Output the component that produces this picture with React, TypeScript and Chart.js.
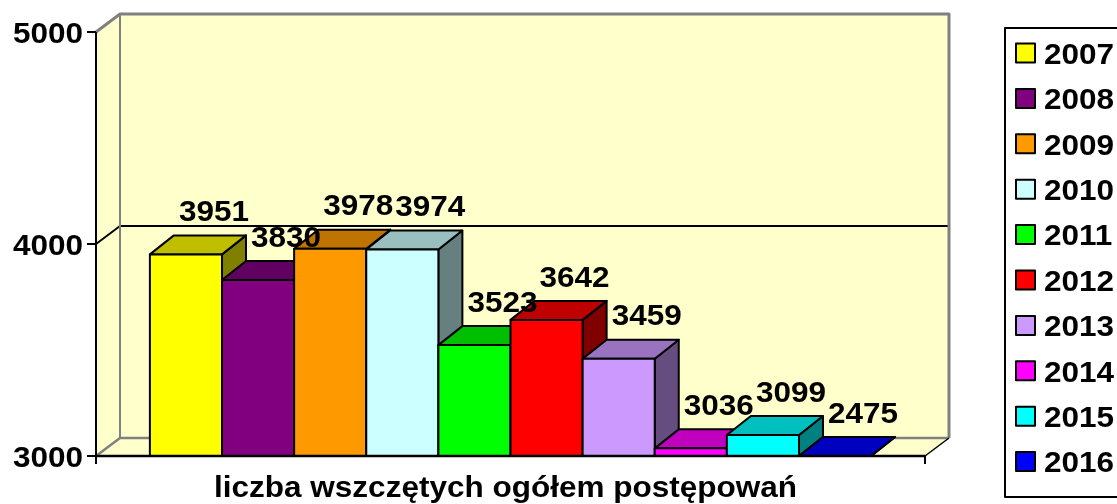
import React, { useEffect, useRef } from 'react';
import { Chart, registerables } from 'chart.js';

Chart.register(...registerables);

// ---- data ----
const categories = ['liczba wszczętych ogółem postępowań'];
const years = ['2007', '2008', '2009', '2010', '2011', '2012', '2013', '2014', '2015', '2016'];
const values = [3951, 3830, 3978, 3974, 3523, 3642, 3459, 3036, 3099, 2475];
const colors = ['#FFFF00', '#800080', '#FF9900', '#CCFFFF', '#00FF00', '#FF0000', '#CC99FF', '#FF00FF', '#00FFFF', '#0000FF'];
const yTicks = [3000, 4000, 5000];

const FONT = 'bold 30px "Liberation Sans", Arial, sans-serif';
const SX = 1.05;
const WALL = '#FFFFCC';

function shade(hex: string, f: number) {
  const n = parseInt(hex.slice(1), 16);
  const r = Math.round(((n >> 16) & 255) * f);
  const g = Math.round(((n >> 8) & 255) * f);
  const b = Math.round((n & 255) * f);
  return `rgb(${r},${g},${b})`;
}

function text(ctx: CanvasRenderingContext2D, s: string, x: number, y: number, align: CanvasTextAlign) {
  ctx.save();
  ctx.translate(x, y);
  ctx.scale(SX, 1);
  ctx.font = FONT;
  ctx.fillStyle = '#000';
  ctx.textAlign = align;
  ctx.textBaseline = 'alphabetic';
  ctx.fillText(s, 0, 0);
  ctx.restore();
}

function poly(ctx: CanvasRenderingContext2D, pts: number[][], fill: string | null, stroke: string | null, lw = 2) {
  ctx.beginPath();
  ctx.moveTo(pts[0][0], pts[0][1]);
  for (let i = 1; i < pts.length; i++) ctx.lineTo(pts[i][0], pts[i][1]);
  ctx.closePath();
  if (fill) { ctx.fillStyle = fill; ctx.fill(); }
  if (stroke) { ctx.strokeStyle = stroke; ctx.lineWidth = lw; ctx.stroke(); }
}

function line(ctx: CanvasRenderingContext2D, pts: number[][], color: string, lw: number) {
  ctx.beginPath();
  ctx.moveTo(pts[0][0], pts[0][1]);
  for (let i = 1; i < pts.length; i++) ctx.lineTo(pts[i][0], pts[i][1]);
  ctx.strokeStyle = color;
  ctx.lineWidth = lw;
  ctx.stroke();
}

const WD = { dx: 24, dy: -18 };
const BD = { dx: 24, dy: -19 };

const threeD = {
  id: 'threeD',
  beforeDatasetsDraw(chart: any) {
    const ctx = chart.ctx as CanvasRenderingContext2D;
    const { left: L, right: R, top: T, bottom: B } = chart.chartArea;
    const ys = chart.scales.y;
    ctx.save();
    ctx.lineJoin = 'round';
    poly(ctx, [[L + WD.dx, T + WD.dy], [R + WD.dx, T + WD.dy], [R + WD.dx, B + WD.dy], [L + WD.dx, B + WD.dy]], WALL, null);
    poly(ctx, [[L, T], [L + WD.dx, T + WD.dy], [L + WD.dx, B + WD.dy], [L, B]], WALL, null);
    poly(ctx, [[L, B], [R, B], [R + WD.dx, B + WD.dy], [L + WD.dx, B + WD.dy]], WALL, null);
    yTicks.forEach((v) => {
      if (v === ys.min || v === ys.max) return;
      const y = ys.getPixelForValue(v);
      line(ctx, [[L, y], [L + WD.dx, y + WD.dy], [R + WD.dx, y + WD.dy]], '#000', 2);
    });
    line(ctx, [[L, T], [L + WD.dx, T + WD.dy], [R + WD.dx, T + WD.dy], [R + WD.dx, B + WD.dy]], '#808080', 3);
    line(ctx, [[L + WD.dx, T + WD.dy], [L + WD.dx, B + WD.dy]], '#808080', 2);
    line(ctx, [[L, B], [L + WD.dx, B + WD.dy], [R + WD.dx, B + WD.dy]], '#808080', 2.5);
    line(ctx, [[R, B], [R + WD.dx, B + WD.dy]], '#000', 1.5);
    ctx.restore();
  },
  beforeDatasetDraw() {
    return false;
  },
  afterDatasetsDraw(chart: any) {
    const ctx = chart.ctx as CanvasRenderingContext2D;
    const { left: L, right: R, top: T, bottom: B } = chart.chartArea;
    const ys = chart.scales.y;
    const floorPx = ys.getPixelForValue(ys.min);
    ctx.save();
    ctx.lineJoin = 'round';
    const tops: { x: number; top: number }[] = [];
    chart.data.datasets.forEach((ds: any, i: number) => {
      const meta = chart.getDatasetMeta(i);
      const el = meta.data[0];
      const p = el.getProps(['x', 'y', 'width'], true);
      const l = p.x - p.width / 2;
      const r = p.x + p.width / 2;
      const bot = floorPx;
      const top = Math.min(p.y, bot);
      const c = ds.backgroundColor as string;
      poly(ctx, [[r, top], [r + BD.dx, top + BD.dy], [r + BD.dx, bot + BD.dy], [r, bot]], shade(c, 0.5), '#000', 2);
      poly(ctx, [[l, top], [r, top], [r + BD.dx, top + BD.dy], [l + BD.dx, top + BD.dy]], shade(c, 0.75), '#000', 2);
      poly(ctx, [[l, top], [r, top], [r, bot], [l, bot]], c, '#000', 2);
      tops.push({ x: p.x, top });
    });
    line(ctx, [[L, T], [L, B + 8]], '#000', 2);
    line(ctx, [[L, B], [R, B]], '#000', 2.5);
    line(ctx, [[R, B], [R, B + 8]], '#000', 2);
    yTicks.forEach((v) => {
      const y = ys.getPixelForValue(v);
      line(ctx, [[L - 9, y], [L, y]], '#000', 2);
      text(ctx, String(v), L - 13, y + 10.8, 'right');
    });
    chart.data.datasets.forEach((ds: any, i: number) => {
      const t = tops[i];
      text(ctx, String(ds.data[0]), t.x + 28, t.top - 44 + 10.8, 'center');
    });
    text(ctx, String(chart.data.labels[0]), (L + R) / 2 - 5, B + 41, 'center');
    const lx = 1005, ly = 28, lb = 497;
    ctx.strokeStyle = '#000';
    ctx.lineWidth = 2;
    ctx.strokeRect(lx, ly, 140, lb - ly);
    const step = 45.4;
    chart.data.datasets.forEach((ds: any, i: number) => {
      const cy = 53 + i * step;
      ctx.fillStyle = ds.backgroundColor;
      ctx.fillRect(1016, cy - 9.5, 19, 19);
      ctx.strokeStyle = '#000';
      ctx.lineWidth = 2;
      ctx.strokeRect(1016, cy - 9.5, 19, 19);
      text(ctx, ds.label, 1044, cy + 10.8, 'left');
    });
    ctx.restore();
  },
};

export default function App() {
  const ref = useRef<HTMLCanvasElement | null>(null);
  useEffect(() => {
    if (!ref.current) return;
    const chart = new Chart(ref.current, {
      type: 'bar',
      data: {
        labels: categories,
        datasets: years.map((y, i) => ({
          label: y,
          data: [values[i]],
          backgroundColor: colors[i],
          borderWidth: 0,
          barPercentage: 1,
          categoryPercentage: 0.87,
        })),
      },
      options: {
        responsive: false,
        animation: false,
        devicePixelRatio: 1,
        layout: { padding: { left: 96, top: 32, right: 192, bottom: 48 } },
        plugins: { legend: { display: false }, tooltip: { enabled: false }, title: { display: false } },
        scales: {
          x: { display: false, offset: true },
          y: { display: false, min: 3000, max: 5000, ticks: { stepSize: 1000 } },
        },
      },
      plugins: [threeD],
    });
    return () => chart.destroy();
  }, []);
  return (
    <div style={{ position: 'fixed', left: 0, top: 0, width: 1117, height: 504, background: '#fff' }}>
      <canvas ref={ref} width={1117} height={504} style={{ display: 'block' }} />
    </div>
  );
}
